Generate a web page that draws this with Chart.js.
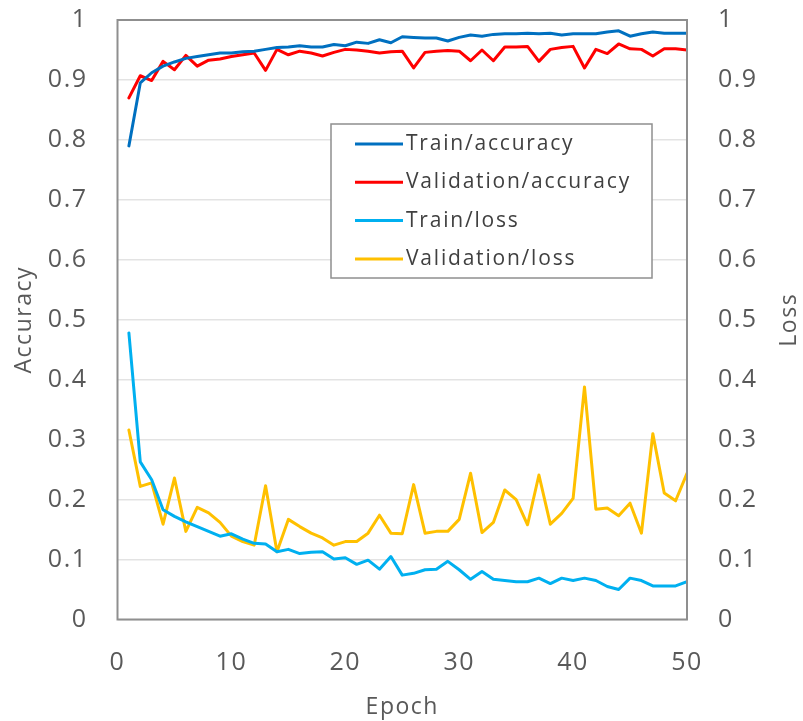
<!DOCTYPE html>
<html>
<head>
<meta charset="utf-8">
<script src="https://cdn.jsdelivr.net/npm/chart.js@4/dist/chart.umd.min.js"></script>
<style>
  html, body { margin: 0; padding: 0; background: #fff; }
  #wrap { width: 803px; height: 721px; }
</style>
</head>
<body>
<div id="wrap"><canvas id="grafico" width="803" height="721"></canvas></div>
<script>
// epochs 1..50
const epochs = [1,2,3,4,5,6,7,8,9,10,11,12,13,14,15,16,17,18,19,20,21,22,23,24,25,
                26,27,28,29,30,31,32,33,34,35,36,37,38,39,40,41,42,43,44,45,46,47,48,49,50];

const trainAcc = [0.790, 0.895, 0.912, 0.923, 0.930, 0.936, 0.939, 0.942, 0.945, 0.945,
                  0.947, 0.948, 0.951, 0.954, 0.955, 0.957, 0.955, 0.955, 0.959, 0.957,
                  0.963, 0.961, 0.967, 0.962, 0.972, 0.971, 0.970, 0.970, 0.965, 0.971,
                  0.975, 0.973, 0.976, 0.977, 0.977, 0.978, 0.977, 0.978, 0.975, 0.977,
                  0.977, 0.977, 0.980, 0.982, 0.973, 0.977, 0.980, 0.978, 0.978, 0.978];

const valAcc = [0.870, 0.907, 0.899, 0.931, 0.917, 0.941, 0.923, 0.933, 0.935, 0.939,
                0.942, 0.945, 0.916, 0.951, 0.942, 0.948, 0.945, 0.940, 0.946, 0.951,
                0.950, 0.948, 0.945, 0.947, 0.948, 0.920, 0.946, 0.948, 0.949, 0.948,
                0.932, 0.950, 0.932, 0.955, 0.955, 0.956, 0.931, 0.951, 0.954, 0.956,
                0.920, 0.951, 0.944, 0.960, 0.952, 0.951, 0.940, 0.952, 0.952, 0.950];

const trainLoss = [0.478, 0.263, 0.233, 0.183, 0.172, 0.163, 0.155, 0.147, 0.139, 0.143,
                   0.134, 0.127, 0.126, 0.113, 0.117, 0.110, 0.112, 0.113, 0.101, 0.103,
                   0.092, 0.099, 0.084, 0.105, 0.074, 0.077, 0.083, 0.084, 0.097, 0.083,
                   0.067, 0.080, 0.067, 0.065, 0.063, 0.063, 0.069, 0.060, 0.069, 0.065,
                   0.069, 0.065, 0.055, 0.050, 0.069, 0.065, 0.056, 0.056, 0.056, 0.063];

const valLoss = [0.316, 0.222, 0.228, 0.159, 0.236, 0.147, 0.187, 0.178, 0.162, 0.139,
                 0.130, 0.124, 0.223, 0.113, 0.167, 0.155, 0.144, 0.136, 0.124, 0.130,
                 0.130, 0.144, 0.174, 0.144, 0.143, 0.225, 0.144, 0.147, 0.147, 0.167,
                 0.244, 0.145, 0.162, 0.216, 0.200, 0.158, 0.241, 0.159, 0.177, 0.202,
                 0.388, 0.184, 0.186, 0.173, 0.194, 0.144, 0.310, 0.211, 0.198, 0.244];

const serieNames = ["Train/accuracy", "Validation/accuracy", "Train/loss", "Validation/loss"];
const serieColors = ["#0070C0", "#FF0000", "#00B0F0", "#FFC000"];

const gris = "#595959";
const fuente = "'Open Sans', sans-serif";

function puntos(valores) {
    return epochs.map((e, i) => ({ x: e, y: valores[i] }));
}

// etiquetas como en Excel: 1, 0.9 ... 0
function etiqueta(v) {
    return String(Number(v.toFixed(1)));
}

// el texto del original es más ancho: un poco de espaciado entre letras
const espaciado = {
    id: "espaciado",
    beforeDraw(chart) {
        chart.ctx.letterSpacing = "1.5px";
    }
};

// marco gris alrededor del área de trazado + título derecho + leyenda interior
const extras = {
    id: "extras",
    afterDatasetsDraw(chart) {
        const { ctx, chartArea: a } = chart;
        ctx.save();
        ctx.strokeStyle = "#8f8f8f";
        ctx.lineWidth = 2;
        ctx.strokeRect(a.left, a.top, a.right - a.left, a.bottom - a.top);

        // título del eje derecho, leído de abajo hacia arriba
        ctx.fillStyle = gris;
        ctx.font = "23px " + fuente;
        ctx.textAlign = "center";
        ctx.textBaseline = "middle";
        ctx.translate(789, (a.top + a.bottom) / 2);
        ctx.rotate(-Math.PI / 2);
        ctx.fillText("Loss", 0, 0);
        ctx.restore();

        // leyenda
        ctx.save();
        ctx.fillStyle = "#ffffff";
        ctx.fillRect(331, 124, 321, 154);
        ctx.strokeStyle = "#8f8f8f";
        ctx.lineWidth = 1.5;
        ctx.strokeRect(331, 124, 321, 154);
        ctx.font = "21px " + fuente;
        ctx.letterSpacing = "1.8px";
        ctx.textAlign = "left";
        ctx.textBaseline = "middle";
        chart.data.datasets.forEach((ds, i) => {
            const y = 144 + i * 38.3;
            ctx.strokeStyle = ds.borderColor;
            ctx.lineWidth = 3;
            ctx.beginPath();
            ctx.moveTo(355, y);
            ctx.lineTo(403, y);
            ctx.stroke();
            ctx.fillStyle = "#404040";
            ctx.fillText(ds.label, 406, y);
        });
        ctx.restore();
    }
};

const ctx = document.getElementById("grafico");

new Chart(ctx, {
    type: "line",
    data: {
        datasets: [
            { label: serieNames[0], data: puntos(trainAcc), yAxisID: "yAcc", borderColor: serieColors[0] },
            { label: serieNames[1], data: puntos(valAcc), yAxisID: "yAcc", borderColor: serieColors[1] },
            { label: serieNames[2], data: puntos(trainLoss), yAxisID: "yLoss", borderColor: serieColors[2] },
            { label: serieNames[3], data: puntos(valLoss), yAxisID: "yLoss", borderColor: serieColors[3] }
        ]
    },
    options: {
        responsive: false,
        animation: false,
        events: [],
        layout: { padding: { top: 20, left: 0, right: 0, bottom: 0 } },
        elements: {
            point: { radius: 0 },
            line: { borderWidth: 3, tension: 0, borderJoinStyle: "round", borderCapStyle: "round" }
        },
        plugins: {
            legend: { display: false },
            tooltip: { enabled: false }
        },
        scales: {
            x: {
                type: "linear",
                min: 0, max: 50,
                ticks: { stepSize: 10, color: gris, font: { family: fuente, size: 25 }, padding: 28 },
                grid: { display: false, drawTicks: false },
                border: { display: false },
                title: { display: true, text: "Epoch", color: gris, font: { family: fuente, size: 23 }, padding: { top: 0, bottom: 0 } },
                afterFit(s) { s.height = 101.5; s.paddingLeft = 0; s.paddingRight = 0; }
            },
            yAcc: {
                position: "left",
                min: 0, max: 1,
                ticks: { stepSize: 0.1, color: gris, font: { family: fuente, size: 25 }, padding: 30, callback: etiqueta },
                grid: { color: "#e3e3e3", lineWidth: 1.5, drawTicks: false },
                border: { display: false },
                title: { display: true, text: "Accuracy", color: gris, font: { family: fuente, size: 23 }, padding: { top: 11, bottom: 0 } },
                afterFit(s) { s.width = 117.5; s.paddingTop = 0; s.paddingBottom = 0; }
            },
            yLoss: {
                position: "right",
                min: 0, max: 1,
                ticks: { stepSize: 0.1, color: gris, font: { family: fuente, size: 25 }, padding: 31, callback: etiqueta },
                grid: { display: false, drawTicks: false },
                border: { display: false },
                afterFit(s) { s.width = 116; s.paddingTop = 0; s.paddingBottom = 0; }
            }
        }
    },
    plugins: [espaciado, extras]
});
</script>
</body>
</html>
